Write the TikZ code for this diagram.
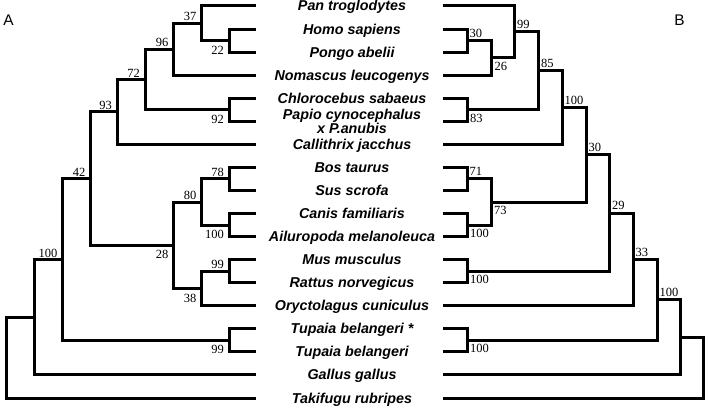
\documentclass[tikz,border=0pt]{standalone}
\usepackage{fontspec}
\setmainfont{Liberation Serif}
\newfontfamily\leaffont{Liberation Sans}
\tikzset{
  br/.style={line width=3pt, line join=miter},
  sp/.style={font=\leaffont\bfseries\itshape\fontsize{14.3}{14.3}\selectfont, inner sep=0pt, anchor=base},
  bs/.style={font=\fontsize{12.5}{12.5}\selectfont, inner sep=0pt},
  labUL/.style={bs, anchor=south east, xshift=-5pt, yshift=2pt},
  labLL/.style={bs, anchor=north east, xshift=-5pt, yshift=-5pt},
  labUR/.style={bs, anchor=south west, xshift=2.5pt, yshift=3pt},
  labLR/.style={bs, anchor=north west, xshift=3pt, yshift=-4pt},
  panel/.style={font=\leaffont\fontsize{15.4}{15.4}\selectfont, inner sep=0pt}
}
\begin{document}
\begin{tikzpicture}[x=1pt, y=-1pt]
\useasboundingbox (0,0) rectangle (708,409);
% tips
\foreach \i in {0,...,17} {
  \coordinate (L\i) at (256, {6+23.06*\i});
  \coordinate (R\i) at (443, {6+23.06*\i});
}
% species names
\node[sp] (s0) at (352, 11) {Pan troglodytes};
\node[sp] (s1) at (352, 34.06) {Homo sapiens};
\node[sp] (s2) at (352, 57.12) {Pongo abelii};
\node[sp] (s3) at (352, 80.18) {Nomascus leucogenys};
\node[sp] (s4) at (352, 103.24) {Chlorocebus sabaeus};
\node[sp] (s5) at (352, 119.5) {Papio cynocephalus};
\node[sp] (s5b) at (352, 133.5) {x P.anubis};
\node[sp] (s6) at (352, 149.36) {Callithrix jacchus};
\node[sp] (s7) at (352, 172.42) {Bos taurus};
\node[sp] (s8) at (352, 195.48) {Sus scrofa};
\node[sp] (s9) at (352, 218.54) {Canis familiaris};
\node[sp] (s10) at (352, 241.6) {Ailuropoda melanoleuca};
\node[sp] (s11) at (352, 264.66) {Mus musculus};
\node[sp] (s12) at (352, 287.72) {Rattus norvegicus};
\node[sp] (s13) at (352, 310.78) {Oryctolagus cuniculus};
\node[sp] (s14) at (352, 333.84) {Tupaia belangeri *};
\node[sp] (s15) at (352, 356.9) {Tupaia belangeri};
\node[sp] (s16) at (352, 379.96) {Gallus gallus};
\node[sp] (s17) at (352, 403.02) {Takifugu rubripes};
% panel letters
\node[panel] (pA) at (8.5, 20.5) {A};
\node[panel] (pB) at (679.5, 20) {B};

% ---------- tree A ----------
\coordinate (a22) at (229, 40.59);
\coordinate (a37) at (201.5, 23.3);
\coordinate (a96) at (173.5, 49.24);
\coordinate (a92) at (229, 109.77);
\coordinate (a72) at (145, 79.5);
\coordinate (a93) at (117, 111.93);
\coordinate (a78) at (229, 178.95);
\coordinate (a100c) at (229, 225.07);
\coordinate (a80) at (201.5, 202.01);
\coordinate (a99) at (229, 271.19);
\coordinate (a38) at (201.5, 288.49);
\coordinate (a28) at (173.5, 245.25);
\coordinate (a42) at (90.5, 178.59);
\coordinate (a99t) at (229, 340.37);
\coordinate (a100) at (62.5, 259.48);
\coordinate (a34) at (34.5, 317.22);
\coordinate (aroot) at (6.5, 357.62);

\draw[br] (a22) |- (L1) (a22) |- (L2);
\draw[br] (a37) |- (L0) (a37) |- (a22);
\draw[br] (a96) |- (a37) (a96) |- (L3);
\draw[br] (a92) |- (L4) (a92) |- (L5);
\draw[br] (a72) |- (a96) (a72) |- (a92);
\draw[br] (a93) |- (a72) (a93) |- (L6);
\draw[br] (a78) |- (L7) (a78) |- (L8);
\draw[br] (a100c) |- (L9) (a100c) |- (L10);
\draw[br] (a80) |- (a78) (a80) |- (a100c);
\draw[br] (a99) |- (L11) (a99) |- (L12);
\draw[br] (a38) |- (a99) (a38) |- (L13);
\draw[br] (a28) |- (a80) (a28) |- (a38);
\draw[br] (a42) |- (a93) (a42) |- (a28);
\draw[br] (a99t) |- (L14) (a99t) |- (L15);
\draw[br] (a100) |- (a42) (a100) |- (a99t);
\draw[br] (a34) |- (a100) (a34) |- (L16);
\draw[br] (aroot) |- (a34) (aroot) |- (L17);

\node[labUL] (t37) at (a37) {37};
\node[labLL] (t22) at (a22) {22};
\node[labUL] (t96) at (a96) {96};
\node[labUL] (t72) at (a72) {72};
\node[labLL] (t92) at (a92) {92};
\node[labUL] (t93) at (a93) {93};
\node[labUL] (t42) at (a42) {42};
\node[labUL] (t80) at (a80) {80};
\node[labUL] (t78) at (a78) {78};
\node[labLL] (t100c) at (a100c) {100};
\node[labLL] (t28) at (a28) {28};
\node[labUL] (t99) at (a99) {99};
\node[labLL] (t38) at (a38) {38};
\node[labUL] (t100) at (a100) {100};
\node[labLL] (t99t) at (a99t) {99};

% ---------- tree B ----------
\coordinate (b30) at (467, 40.59);
\coordinate (b26) at (491.5, 57.89);
\coordinate (b99) at (514.5, 31.94);
\coordinate (b83) at (467, 109.77);
\coordinate (b85) at (538.5, 70.86);
\coordinate (b100a) at (562, 107.61);
\coordinate (b71) at (467, 178.95);
\coordinate (b100b) at (467, 225.07);
\coordinate (b73) at (491, 202.01);
\coordinate (b30b) at (586, 154.81);
\coordinate (b100c) at (467, 271.19);
\coordinate (b29) at (609.5, 213);
\coordinate (b33) at (633, 259.39);
\coordinate (b100t) at (467, 340.37);
\coordinate (b100d) at (657, 299.88);
\coordinate (b681) at (680.5, 337.42);
\coordinate (broot) at (703, 367.72);

\draw[br] (b30) |- (R1) (b30) |- (R2);
\draw[br] (b26) |- (b30) (b26) |- (R3);
\draw[br] (b99) |- (R0) (b99) |- (b26);
\draw[br] (b83) |- (R4) (b83) |- (R5);
\draw[br] (b85) |- (b99) (b85) |- (b83);
\draw[br] (b100a) |- (b85) (b100a) |- (R6);
\draw[br] (b71) |- (R7) (b71) |- (R8);
\draw[br] (b100b) |- (R9) (b100b) |- (R10);
\draw[br] (b73) |- (b71) (b73) |- (b100b);
\draw[br] (b30b) |- (b100a) (b30b) |- (b73);
\draw[br] (b100c) |- (R11) (b100c) |- (R12);
\draw[br] (b29) |- (b30b) (b29) |- (b100c);
\draw[br] (b33) |- (b29) (b33) |- (R13);
\draw[br] (b100t) |- (R14) (b100t) |- (R15);
\draw[br] (b100d) |- (b33) (b100d) |- (b100t);
\draw[br] (b681) |- (b100d) (b681) |- (R16);
\draw[br] (broot) |- (b681) (broot) |- (R17);

\node[labUR] (u30) at (b30) {30};
\node[labLR] (u26) at (b26) {26};
\node[labUR] (u99) at (b99) {99};
\node[labUR] (u85) at (b85) {85};
\node[labLR] (u83) at (b83) {83};
\node[labUR] (u100a) at (b100a) {100};
\node[labUR] (u71) at (b71) {71};
\node[labLR] (u100b) at (b100b) {100};
\node[labLR] (u73) at (b73) {73};
\node[labUR] (u30b) at (b30b) {30};
\node[labLR] (u100c) at (b100c) {100};
\node[labUR] (u29) at (b29) {29};
\node[labUR] (u33) at (b33) {33};
\node[labUR] (u100d) at (b100d) {100};
\node[labLR] (u100t) at (b100t) {100};
\end{tikzpicture}
\end{document}
